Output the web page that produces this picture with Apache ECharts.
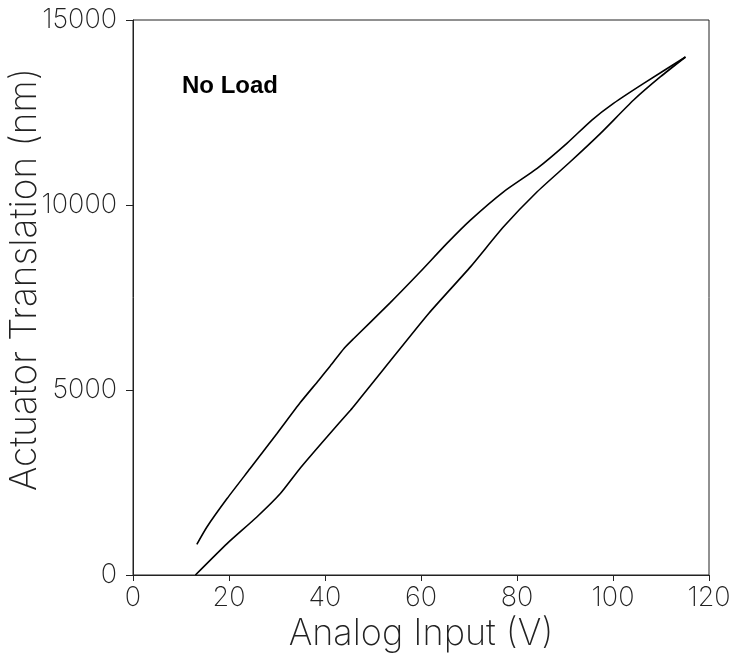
<!DOCTYPE html>
<html>
<head>
<meta charset="utf-8">
<script src="https://cdn.jsdelivr.net/npm/echarts@6/dist/echarts.min.js"></script>
<style>
html,body{margin:0;padding:0;background:#fff;}
#chart{width:733px;height:653px;}
</style>
</head>
<body>
<div id="chart"></div>
<script>
// Ascending sweep (lower branch): [input V, translation nm]
const ascending = [
  [13.0, 0], [19.6, 849], [25.8, 1568], [30.7, 2201], [34.9, 2900],
  [40.4, 3732], [45.3, 4454], [47.0, 4724], [52.2, 5560],
  [61.6, 7068], [70.3, 8328], [77.2, 9410], [84.2, 10357], [91.1, 11168],
  [97.4, 11936], [104.3, 12837], [109.9, 13467], [115.1, 14000]
];
// Descending sweep (upper branch)
const descending = [
  [115.1, 14000], [106.4, 13288], [100.1, 12747], [95.6, 12296], [90.4, 11666],
  [84.2, 10990], [77.2, 10357], [70.3, 9592], [65.4, 8962], [59.85, 8194],
  [53.6, 7360], [46.0, 6393], [44.0, 6130], [41.1, 5652], [38.7, 5265],
  [34.85, 4660], [30.0, 3824], [24.4, 2877], [19.6, 2066], [15.4, 1298], [13.3, 830]
];
const xTicks = [0, 20, 40, 60, 80, 100, 120];
const yTicks = [0, 5000, 10000, 15000];
const xTitle = 'Analog Input (V)';
const yTitle = 'Actuator Translation (nm)';
const annotation = 'No Load';

const chart = echarts.init(document.getElementById('chart'), null, {renderer: 'canvas'});
const thinFont = 'Inter';
const lineStyle = {color: '#000', width: 1.6};
chart.setOption({
  animation: false,
  backgroundColor: '#fff',
  grid: {left: 133, right: 24, top: 20, bottom: 78, containLabel: false, outerBoundsMode: 'none',
         show: true, borderColor: '#222', borderWidth: 1, backgroundColor: 'transparent'},
  xAxis: {
    type: 'value', min: xTicks[0], max: xTicks[xTicks.length - 1], interval: 20,
    name: xTitle, nameLocation: 'middle', nameGap: 36,
    nameTextStyle: {fontFamily: thinFont, fontWeight: 200, fontSize: 36, color: '#222'},
    axisLine: {show: true, lineStyle: {color: '#222', width: 1}},
    axisTick: {show: true, length: 6, lineStyle: {color: '#222'}},
    axisLabel: {fontFamily: thinFont, fontWeight: 200, fontSize: 27, color: '#222', margin: 9,
                formatter: v => String(v)},
    splitLine: {show: false}
  },
  yAxis: {
    type: 'value', min: yTicks[0], max: yTicks[yTicks.length - 1], interval: 5000,
    name: yTitle, nameLocation: 'middle', nameGap: 90, nameMoveOverlap: false,
    nameTextStyle: {fontFamily: thinFont, fontWeight: 200, fontSize: 37, color: '#222', padding: [0, 0, 0, 36]},
    axisLine: {show: true, lineStyle: {color: '#222', width: 1}},
    axisTick: {show: true, length: 7, lineStyle: {color: '#222'}},
    axisLabel: {fontFamily: thinFont, fontWeight: 200, fontSize: 27, color: '#222', margin: 16,
                formatter: v => String(v)},
    splitLine: {show: false}
  },
  graphic: [{
    type: 'text', left: 182, top: 74,
    style: {text: annotation, fontFamily: 'Liberation Sans', fontWeight: 'bold', fontSize: 24, fill: '#000'}
  }],
  series: [
    {type: 'line', data: ascending, smooth: 0.2, showSymbol: false, lineStyle: lineStyle},
    {type: 'line', data: descending, smooth: 0.2, showSymbol: false, lineStyle: lineStyle}
  ]
});
</script>
</body>
</html>
